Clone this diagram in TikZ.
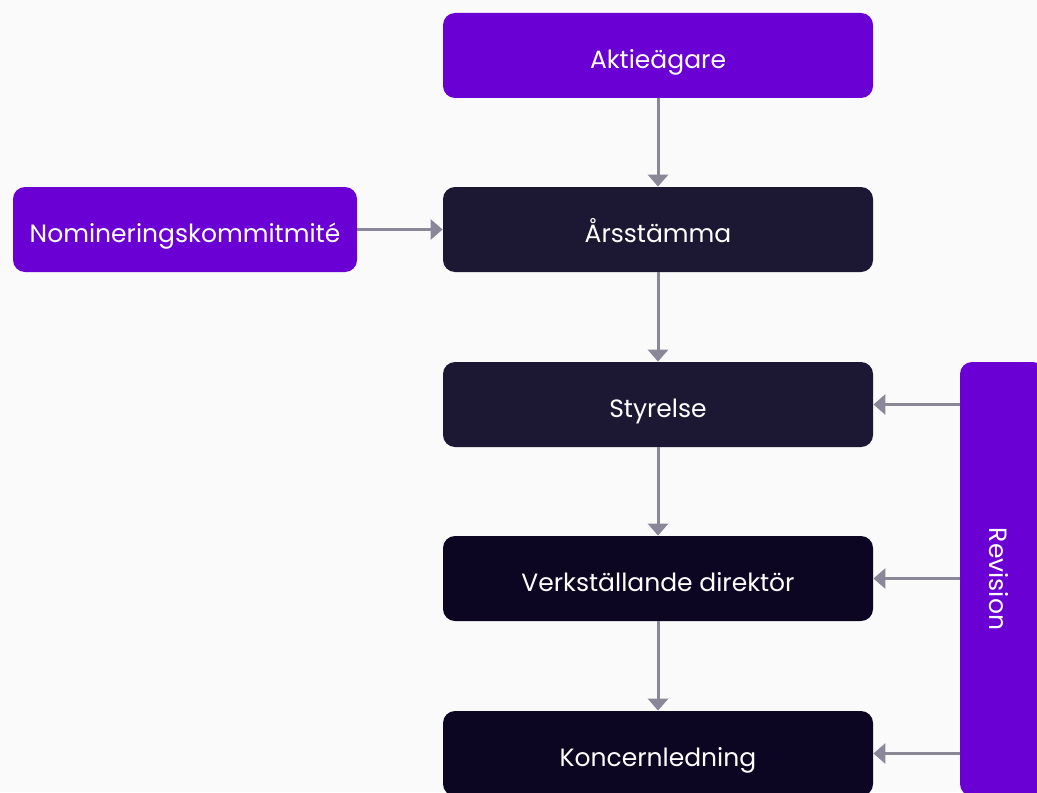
\documentclass[tikz,border=0pt]{standalone}
\usepackage{fontspec}
\setmainfont{Poppins}
\usepackage{xcolor}
\usetikzlibrary{arrows.meta,positioning}
\definecolor{lila}{HTML}{6B00D4}
\definecolor{morkblå}{HTML}{1C1833}
\definecolor{svart}{HTML}{0C0622}
\definecolor{pil}{HTML}{8A8799}
\definecolor{bakgrund}{HTML}{FAFAFA}
\begin{document}
\begin{tikzpicture}[x=0.5pt,y=-0.5pt,font=\fontsize{12.5}{15}\selectfont,
  >={Triangle[width=10pt,length=6pt]},
  box/.style={rounded corners=6pt,minimum height=42.5pt,minimum width=215pt,inner sep=0pt,text=white,align=center,text height=12.6pt,text depth=0pt},
  lila box/.style={box,fill=lila}, mork/.style={box,fill=morkblå}, svartbox/.style={box,fill=svart},
  pil/.style={->,draw=pil,line width=1.5pt}]
\useasboundingbox[fill=bakgrund] (0,0) rectangle (1037,792);
% huvudkedja
\node[lila box] (aktie)   at (658,55.5)  {Aktieägare};
\node[mork] (stamma)      at (658,229.5) {Årsstämma};
\node[mork] (styrelse)    at (658,404.5) {Styrelse};
\node[svartbox] (vd)      at (658,578.5) {Verkställande direktör};
\node[svartbox] (koncern) at (658,753.5) {Koncernledning};
% sidoboxar
\node[lila box,minimum width=172pt] (nom) at (185,229.5) {Nomineringskommitmité};
\node[lila box,minimum width=42.5pt,minimum height=217pt] (rev) at (1002.5,579) {};
\node[text=white,rotate=-90,inner sep=0pt,text height=12.6pt,text depth=0pt] (revtext) at (rev.center) {Revision};
% pilar
\draw[pil] (aktie)--(stamma); \draw[pil] (stamma)--(styrelse);
\draw[pil] (styrelse)--(vd); \draw[pil] (vd)--(koncern);
\draw[pil] (nom)--(stamma);
\draw[pil] (rev.west |- styrelse) -- (styrelse.east);
\draw[pil] (rev.west |- vd) -- (vd.east);
\draw[pil] (rev.west |- koncern) -- (koncern.east);
\end{tikzpicture}
\end{document}
